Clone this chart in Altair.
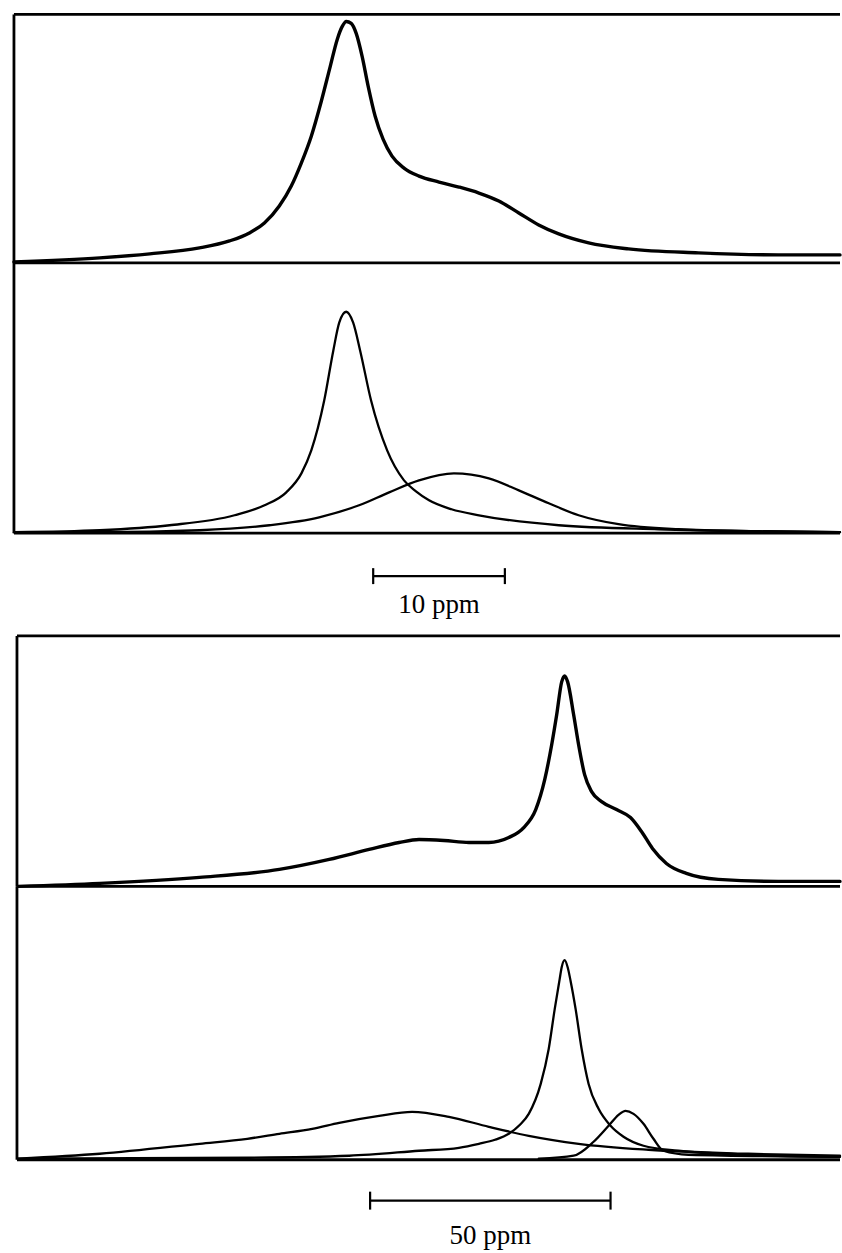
import altair as alt
import pandas as pd

# ---------------------------------------------------------------------------
# Spectrum 1 (narrow range, 10 ppm scale bar)
# shift in ppm relative to the main resonance, intensity in arbitrary units
# ---------------------------------------------------------------------------
S1_FULL_SHIFT = [-25.23, -18.71, -14.92, -11.14, -8.86, -7.35, -6.21, -5.08, -4.17,
                 -3.41, -2.65, -1.89, -1.21, -0.68, -0.30, 0.0, 0.38, 0.76, 1.21,
                 1.67, 2.20, 2.80, 3.48, 4.39, 5.53, 7.05, 8.56, 10.08, 11.59,
                 13.11, 14.62, 16.14, 18.41, 21.44, 26.74, 32.80, 37.50]
S1_FULL_INT = [1, 5, 9, 15, 22, 30, 40, 57, 77,
               100, 127, 162, 197, 224, 237, 242, 240, 230, 207,
               177, 147, 124, 107, 95, 87, 81, 76, 70, 62,
               50, 38, 29, 20, 14, 10, 8, 8]

S1_NARROW_SHIFT = [-25.23, -18.71, -13.41, -8.48, -6.20, -4.55, -3.40, -2.65, -1.67,
                   -0.98, -0.53, 0.0, 0.53, 1.06, 1.89, 3.11, 4.39, 5.30, 6.29, 8.00,
                   10.08, 16.14, 23.71, 31.29, 37.50]
S1_NARROW_INT = [1, 3, 8, 18, 28, 41, 60, 83, 133,
                 183, 211, 222, 211, 183, 133, 83, 53, 42, 33, 24,
                 18, 8, 4, 2, 1]

S1_BROAD_SHIFT = [-25.23, -18.71, -11.14, -5.83, -2.05, 0.98, 3.26, 5.53, 8.18,
                  10.83, 13.11, 15.38, 17.65, 20.68, 25.23, 31.29, 37.50]
S1_BROAD_INT = [1, 1, 3, 8, 16, 28, 41, 53, 60,
                55, 43, 30, 18, 9, 4, 2, 1]

# ---------------------------------------------------------------------------
# Spectrum 2 (wide range, 50 ppm scale bar)
# ---------------------------------------------------------------------------
S2_FULL_SHIFT = [-113.69, -96.68, -75.93, -59.34, -48.96, -40.66, -34.44, -30.29,
                 -25.10, -19.92, -15.77, -11.62, -8.51, -6.02, -4.15, -2.70, -1.66,
                 -0.62, 0.0, 0.62, 1.87, 2.90, 4.15, 5.60, 7.68, 10.79, 13.69,
                 15.98, 18.26, 21.16, 25.31, 31.95, 44.40, 57.26]
S2_FULL_INT = [0, 3, 9, 17, 27, 37, 44, 47,
               46, 44, 44, 49, 59, 77, 107, 142, 172,
               205, 211, 205, 172, 142, 112, 95, 85, 77, 69,
               55, 38, 23, 13, 7, 5, 5]

S2_MAIN_SHIFT = [-113.69, -65.56, -44.81, -30.29, -22.0, -17.84, -14.5, -11.62, -9.3,
                 -7.47, -4.98, -3.32, -2.07, -1.04, -0.62, 0.0, 0.62, 1.24, 2.28,
                 3.53, 4.98, 7.05, 9.54, 12.24, 16.39, 23.65, 38.17, 57.26]
S2_MAIN_INT = [1, 2, 4, 9, 12, 16, 20, 26, 35,
               46, 76, 111, 151, 181, 193, 200, 193, 179, 151,
               111, 76, 51, 34, 23, 14, 9, 5, 3]

S2_BROAD_SHIFT = [-113.69, -96.68, -75.93, -66.0, -59.34, -52.5, -46.89, -38.59,
                  -31.74, -24.07, -15.77, -7.47, 2.90, 17.43, 38.17, 57.26]
S2_BROAD_INT = [1, 6, 16, 21, 26, 31, 37, 44,
                48, 43, 33, 24, 16, 10, 6, 4]

S2_MINOR_SHIFT = [-5.39, 1.87, 6.02, 9.13, 11.20, 12.66, 14.32, 16.39, 18.46, 20.54,
                  25.73, 57.26]
S2_MINOR_INT = [1, 4, 18, 34, 45, 49, 46, 36, 21, 9,
                5, 3]

# Scale bars (ppm) and their labels
BAR1 = (2.05, 12.05)
BAR1_LABEL = "10 ppm"
BAR2 = (-40.46, 9.54)
BAR2_LABEL = "50 ppm"

# Frame extents (ppm) for the two boxes
BOX1_X = (-25.23, 37.5)
BOX2_X = (-113.9, 57.26)

WIDTH = 842
X1 = alt.Scale(domain=[-26.29, 37.5], nice=False, zero=False)
X2 = alt.Scale(domain=[-117.43, 57.26], nice=False, zero=False)

FRAME_W = 2.8
INK = "black"
NO_VIEW = alt.ViewBackground(stroke=None, strokeWidth=0)


def yscale(top):
    return alt.Scale(domain=[0, top], nice=False, zero=False)


def curve(shift, inten, xs, ys, width):
    df = pd.DataFrame({"shift": shift, "intensity": inten})
    return alt.Chart(df).mark_line(
        color=INK, strokeWidth=width, interpolate="monotone",
        strokeCap="round", strokeJoin="round"
    ).encode(
        x=alt.X("shift:Q", scale=xs, axis=None),
        y=alt.Y("intensity:Q", scale=ys, axis=None),
    )


def hlines(x0, x1, ys_vals, xs, ys, width=FRAME_W):
    df = pd.DataFrame({"x0": [x0] * len(ys_vals), "x1": [x1] * len(ys_vals), "y": ys_vals})
    return alt.Chart(df).mark_rule(color=INK, strokeWidth=width).encode(
        x=alt.X("x0:Q", scale=xs, axis=None),
        x2="x1:Q",
        y=alt.Y("y:Q", scale=ys, axis=None),
    )


def vline(x, y0, y1, xs, ys, width=FRAME_W):
    df = pd.DataFrame({"x": [x], "y0": [y0], "y1": [y1]})
    return alt.Chart(df).mark_rule(color=INK, strokeWidth=width).encode(
        x=alt.X("x:Q", scale=xs, axis=None),
        y=alt.Y("y0:Q", scale=ys, axis=None),
        y2="y1:Q",
    )


def scale_bar(bar, label, xs, ys, y_bar, half_tick, y_text):
    mid = (bar[0] + bar[1]) / 2
    line = hlines(bar[0], bar[1], [y_bar], xs, ys, width=2.2)
    ticks = [vline(b, y_bar - half_tick, y_bar + half_tick, xs, ys, width=2.2) for b in bar]
    txt = alt.Chart(pd.DataFrame({"x": [mid], "y": [y_text], "t": [label]})).mark_text(
        font="Liberation Serif", fontSize=27, color=INK, align="center", baseline="alphabetic"
    ).encode(
        x=alt.X("x:Q", scale=xs, axis=None),
        y=alt.Y("y:Q", scale=ys, axis=None),
        text="t:N",
    )
    return alt.layer(line, *ticks, txt)


def panel(layers, height):
    return alt.layer(*layers).properties(width=WIDTH, height=height, view=NO_VIEW)


# --- box 1: observed spectrum ---
h_a = 262
ya = yscale(h_a)
panel_a = panel([
    hlines(BOX1_X[0], BOX1_X[1], [249, 0], X1, ya),
    vline(BOX1_X[0], 0, 249, X1, ya),
    curve(S1_FULL_SHIFT, S1_FULL_INT, X1, ya, 3.4),
], h_a)

# --- box 1: fitted components ---
h_b = 271
yb = yscale(h_b)
panel_b = panel([
    hlines(BOX1_X[0], BOX1_X[1], [0], X1, yb),
    vline(BOX1_X[0], 0, h_b, X1, yb),
    curve(S1_NARROW_SHIFT, S1_NARROW_INT, X1, yb, 2.3),
    curve(S1_BROAD_SHIFT, S1_BROAD_INT, X1, yb, 2.3),
], h_b)

h_c = 93
yc = yscale(h_c)
panel_c = panel([scale_bar(BAR1, BAR1_LABEL, X1, yc, 50, 8, 13)], h_c)

# --- box 2: observed spectrum ---
h_d = 261
yd = yscale(h_d)
panel_d = panel([
    hlines(BOX2_X[0], BOX2_X[1], [251, 0], X2, yd),
    vline(BOX2_X[0], 0, 251, X2, yd),
    curve(S2_FULL_SHIFT, S2_FULL_INT, X2, yd, 3.4),
], h_d)

# --- box 2: fitted components ---
h_e = 274
ye = yscale(h_e)
panel_e = panel([
    hlines(BOX2_X[0], BOX2_X[1], [0], X2, ye),
    vline(BOX2_X[0], 0, h_e, X2, ye),
    curve(S2_BROAD_SHIFT, S2_BROAD_INT, X2, ye, 2.3),
    curve(S2_MAIN_SHIFT, S2_MAIN_INT, X2, ye, 2.3),
    curve(S2_MINOR_SHIFT, S2_MINOR_INT, X2, ye, 2.3),
], h_e)

h_f = 92
yf = yscale(h_f)
panel_f = panel([scale_bar(BAR2, BAR2_LABEL, X2, yf, 51, 9, 8)], h_f)

chart = alt.vconcat(
    panel_a, panel_b, panel_c, panel_d, panel_e, panel_f, spacing=0, bounds="flush"
).properties(
    padding={"left": 0, "top": 0, "right": 0, "bottom": 0},
).configure_view(
    stroke=None, strokeWidth=0
).configure(
    background="white"
)

chart.save("out.html", embed_options={"renderer": "svg", "actions": False})
